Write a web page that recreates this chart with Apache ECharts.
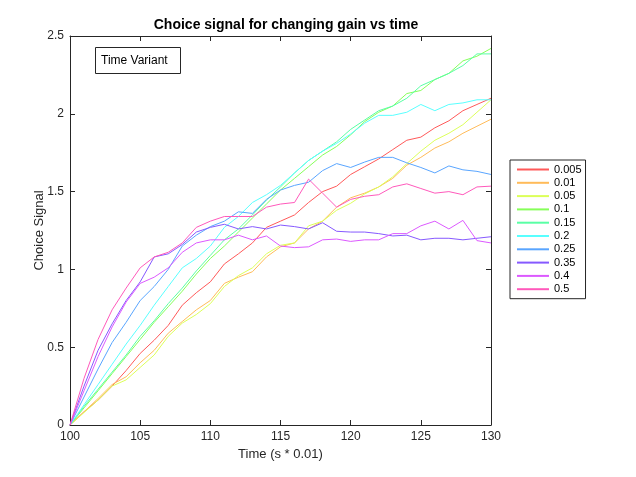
<!DOCTYPE html>
<html><head><meta charset="utf-8">
<script src="https://cdn.jsdelivr.net/npm/echarts@6/dist/echarts.min.js"></script>
<style>html,body{margin:0;padding:0;background:#fff}#c{width:636px;height:477px}</style>
</head><body><div id="c"></div>
<script>
var times = [100,101,102,103,104,105,106,107,108,109,110,111,112,113,114,115,116,117,118,119,120,121,122,123,124,125,126,127,128,129,130];
var seriesNames = ['0.005','0.01','0.05','0.1','0.15','0.2','0.25','0.35','0.4','0.5'];
var g0005 = [0,0.085,0.16,0.25,0.35,0.46,0.545,0.64,0.77,0.85,0.92,1.035,1.10,1.17,1.27,1.31,1.35,1.43,1.50,1.535,1.61,1.66,1.71,1.77,1.83,1.85,1.91,1.955,2.02,2.06,2.10];
var g001 = [0,0.085,0.17,0.26,0.31,0.40,0.48,0.59,0.665,0.74,0.80,0.91,0.95,0.985,1.08,1.145,1.17,1.26,1.31,1.40,1.46,1.49,1.53,1.585,1.67,1.72,1.78,1.82,1.875,1.92,1.965];
var g005 = [0,0.08,0.16,0.25,0.29,0.37,0.45,0.57,0.655,0.71,0.78,0.89,0.96,1.01,1.10,1.155,1.17,1.28,1.31,1.38,1.425,1.485,1.53,1.595,1.68,1.76,1.83,1.875,1.93,2.01,2.09];
var g01 = [0,0.11,0.22,0.33,0.44,0.55,0.66,0.76,0.86,0.97,1.07,1.15,1.24,1.33,1.42,1.51,1.585,1.66,1.735,1.79,1.865,1.95,2.01,2.05,2.13,2.15,2.22,2.26,2.34,2.37,2.42];
var g015 = [0,0.12,0.23,0.34,0.45,0.57,0.67,0.78,0.88,0.99,1.09,1.19,1.26,1.35,1.445,1.53,1.62,1.70,1.76,1.82,1.90,1.96,2.02,2.05,2.10,2.18,2.22,2.26,2.31,2.385,2.385];
var g02 = [0,0.13,0.26,0.39,0.52,0.64,0.77,0.89,1.01,1.07,1.15,1.27,1.34,1.43,1.48,1.54,1.62,1.70,1.76,1.81,1.87,1.94,1.99,1.99,2.01,2.06,2.02,2.06,2.07,2.09,2.09];
var g025 = [0,0.18,0.36,0.53,0.66,0.80,0.89,1.00,1.15,1.22,1.275,1.31,1.37,1.36,1.45,1.51,1.54,1.56,1.635,1.68,1.655,1.69,1.72,1.72,1.685,1.655,1.62,1.665,1.64,1.63,1.61];
var g035 = [0,0.25,0.48,0.65,0.80,0.92,1.08,1.10,1.16,1.24,1.27,1.29,1.26,1.275,1.26,1.285,1.275,1.26,1.30,1.245,1.24,1.24,1.23,1.215,1.22,1.19,1.20,1.20,1.19,1.20,1.21];
var g04 = [0,0.22,0.44,0.63,0.79,0.91,0.95,1.01,1.11,1.17,1.19,1.19,1.22,1.19,1.215,1.15,1.14,1.145,1.19,1.195,1.18,1.19,1.19,1.23,1.23,1.28,1.31,1.26,1.315,1.185,1.17];
var g05 = [0,0.30,0.55,0.74,0.88,1.01,1.08,1.11,1.17,1.27,1.31,1.34,1.34,1.34,1.40,1.42,1.43,1.58,1.49,1.40,1.45,1.47,1.48,1.53,1.55,1.52,1.49,1.50,1.48,1.53,1.535];
var seriesValues = [g0005,g001,g005,g01,g015,g02,g025,g035,g04,g05];
var colors = ['#ff5959','#ffbb59','#dcff59','#86ff59','#59ffa5','#59ffff','#59a5ff','#8659ff','#dc59ff','#ff59bb'];
var xTicks = {min:100, max:130, step:5};
var yTicks = {min:0, max:2.5, step:0.5};

var FONT = 'Liberation Sans';
var AX = '#262626';
var chart = echarts.init(document.getElementById('c'), null, {renderer:'canvas'});
function axBase(extra){
  return Object.assign({
    type:'value', splitLine:{show:false},
    axisLine:{show:true, onZero:false, lineStyle:{color:AX, width:1}},
    axisTick:{show:true, inside:true, length:5, lineStyle:{color:AX}},
    axisLabel:{show:false}
  }, extra);
}
var series = seriesNames.map(function(n,i){
  return {
    name:n, type:'line', symbol:'none', showSymbol:false,
    data: times.map(function(t,j){return [t, seriesValues[i][j]];}),
    lineStyle:{width:1, color:colors[i]}, itemStyle:{color:colors[i]},
    emphasis:{disabled:true}, animation:false
  };
});
chart.setOption({
  animation:false,
  textStyle:{fontFamily:FONT},
  title:{text:'Choice signal for changing gain vs time', left:281, textAlign:'center', top:13,
    textStyle:{fontFamily:FONT, fontSize:14, fontWeight:'bold', color:'#000'}},
  grid:{left:70, right:145, top:36, bottom:52, containLabel:false},
  xAxis:[
    axBase({min:xTicks.min, max:xTicks.max, interval:xTicks.step, position:'bottom',
      axisLabel:{show:true, fontSize:12, color:AX, margin:6, fontFamily:FONT},
      name:'Time (s * 0.01)', nameLocation:'middle', nameGap:23,
      nameTextStyle:{fontSize:13, color:AX, fontFamily:FONT}}),
    axBase({min:xTicks.min, max:xTicks.max, interval:xTicks.step, position:'top'})
  ],
  yAxis:[
    axBase({min:yTicks.min, max:yTicks.max, interval:yTicks.step, position:'left',
      axisLabel:{show:true, fontSize:12, color:AX, margin:6, fontFamily:FONT},
      name:'Choice Signal', nameLocation:'middle', nameGap:24, nameRotate:90, nameMoveOverlap:false,
      nameTextStyle:{fontSize:13, color:AX, fontFamily:FONT}}),
    axBase({min:yTicks.min, max:yTicks.max, interval:yTicks.step, position:'right'})
  ],
  legend:{
    data:seriesNames, orient:'vertical', left:510, top:160,
    backgroundColor:'#fff', borderColor:AX, borderWidth:1, borderRadius:0,
    padding:[4,4,4,6], itemWidth:32, itemHeight:11, itemGap:2.3,
    itemStyle:{opacity:0},
    textStyle:{fontSize:11, color:'#000', fontFamily:FONT, padding:[0,0,0,0]},
    selectedMode:false
  },
  graphic:[
    {type:'rect', shape:{x:95.5, y:47.5, width:85, height:26}, style:{fill:'#fff', stroke:AX, lineWidth:1}, z:100},
    {type:'text', x:101, y:60.5, style:{text:'Time Variant', fontSize:12, fontFamily:FONT, fill:'#000', textVerticalAlign:'middle', verticalAlign:'middle'}, z:101}
  ],
  series:series
});
</script></body></html>
